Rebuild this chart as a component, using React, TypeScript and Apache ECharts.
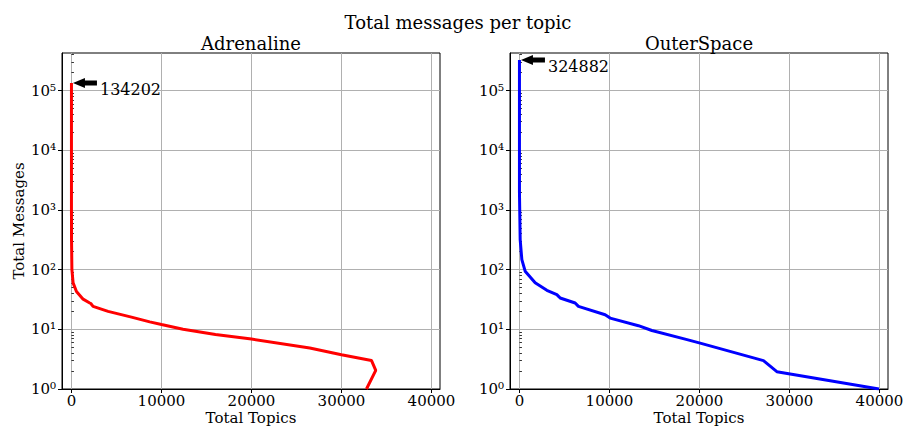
import React, { useEffect, useRef } from 'react';
import * as echarts from 'echarts';

// ---- data ----
const xTicks = [0, 10000, 20000, 30000, 40000];
const yTicks = [1, 10, 100, 1000, 10000, 100000];

const adrX = [0, 0, 10, 50, 185, 556, 1296, 2033, 2150, 2400, 4070, 6667, 8700, 10000, 12400, 16000, 20000, 26480, 30000, 33333, 33811, 32778];
const adrY = [134202, 1000, 300, 100, 60, 43, 32, 27.6, 27, 24.2, 20, 16, 13.3, 12, 10, 8.2, 6.87, 4.86, 3.76, 3.01, 2.05, 1];

const osX = [0, 0, 80, 267, 633, 1744, 3044, 4156, 4400, 4522, 6189, 6556, 9522, 10078, 13222, 14711, 18411, 20078, 27111, 28600, 39950];
const osY = [324882, 2000, 318, 147, 94, 60, 45, 38, 35, 33.4, 27.6, 24.2, 17.5, 15.4, 11.5, 9.55, 6.84, 5.86, 2.99, 1.95, 1];

const adrPeak = 134202;
const osPeak = 324882;

const panelTitles = ['Adrenaline', 'OuterSpace'];
const suptitle = 'Total messages per topic';

const FONT = "'DejaVu Serif', serif";
const SUP = ['\u2070', '\u00b9', '\u00b2', '\u00b3', '\u2074', '\u2075', '\u2076'];
const Y_MAX = 425000;
const X_MIN = -1050;
const X_MAX = 40950;

const minorTicks: number[] = [];
for (let e = 0; e <= 5; e++) {
  for (let m = 2; m <= 9; m++) {
    const v = m * Math.pow(10, e);
    if (v < Y_MAX) minorTicks.push(v);
  }
}

const ARROW = 'path://M0,5 L12,0 L12,2.5 L24,2.5 L24,7.5 L12,7.5 L12,10 Z';

export default function App() {
  const ref = useRef<HTMLDivElement>(null);
  useEffect(() => {
    if (!ref.current) return;
    const chart = echarts.init(ref.current, undefined, { renderer: 'svg' });
    const grids = [
      { left: 62, top: 53, width: 378, height: 336 },
      { left: 510, top: 53, width: 378, height: 336 },
    ];
    const txt = { color: '#000', fontFamily: FONT };
    const xAxes = grids.map((_, i) => ({
      type: 'value',
      gridIndex: i,
      min: X_MIN,
      max: X_MAX,
      axisLine: { show: true, onZero: false, lineStyle: { color: '#000', width: 1 } },
      axisTick: { show: true, inside: false, length: 4, lineStyle: { color: '#000', width: 1 }, customValues: xTicks },
      axisLabel: { show: true, margin: 4, fontSize: 15, ...txt, customValues: xTicks, formatter: (v: number) => String(v) },
      splitLine: { show: true, lineStyle: { color: '#b0b0b0', width: 1 } },
      name: 'Total Topics',
      nameLocation: 'middle',
      nameGap: 21,
      nameMoveOverlap: false,
      nameTextStyle: { fontSize: 15, ...txt },
    }));
    const yMain = grids.map((_, i) => ({
      type: 'log',
      logBase: 10,
      gridIndex: i,
      min: 1,
      max: Y_MAX,
      axisLine: { show: true, onZero: false, lineStyle: { color: '#000', width: 1 } },
      axisTick: { show: true, inside: false, length: 4, lineStyle: { color: '#000', width: 1 }, customValues: yTicks },
      axisLabel: {
        show: true, margin: 6, fontSize: 15, ...txt, customValues: yTicks,
        formatter: (v: number) => '10' + SUP[Math.round(Math.log10(v))],
      },
      splitLine: { show: true, lineStyle: { color: '#b0b0b0', width: 1 } },
      name: i === 0 ? 'Total Messages' : '',
      nameLocation: 'middle',
      nameGap: 36,
      nameMoveOverlap: false,
      nameTextStyle: { fontSize: 15, ...txt },
    }));
    const yMinor = grids.map((_, i) => ({
      type: 'log',
      logBase: 10,
      gridIndex: i,
      min: 1,
      max: Y_MAX,
      axisLine: { show: false },
      axisTick: { show: true, inside: false, length: 2.5, lineStyle: { color: '#000', width: 0.8 }, customValues: minorTicks },
      axisLabel: { show: false },
      splitLine: { show: false },
    }));
    const mk = (peak: number) => ({
      silent: true,
      symbol: ARROW,
      symbolSize: [24, 10],
      symbolOffset: [13.5, 0],
      symbolKeepAspect: false,
      itemStyle: { color: '#000' },
      label: {
        show: true, position: 'right', distance: 3, offset: [0, 7],
        formatter: String(peak), fontSize: 16, ...txt,
      },
      data: [{ coord: [0, peak], value: peak }],
    });
    chart.setOption({
      animation: false,
      backgroundColor: '#fff',
      title: [
        { text: suptitle, left: 458, top: 13, textAlign: 'center', padding: 0, textStyle: { fontSize: 18, fontWeight: 'normal', ...txt } },
        { text: panelTitles[0], left: 251, top: 34, textAlign: 'center', padding: 0, textStyle: { fontSize: 18, fontWeight: 'normal', ...txt } },
        { text: panelTitles[1], left: 699, top: 34, textAlign: 'center', padding: 0, textStyle: { fontSize: 18, fontWeight: 'normal', ...txt } },
      ],
      grid: grids.map((g) => ({
        ...g, show: true, borderColor: '#000', borderWidth: 1, backgroundColor: 'transparent',
        containLabel: false, outerBoundsMode: 'none',
      })),
      xAxis: xAxes,
      yAxis: [...yMain, ...yMinor],
      series: [
        {
          type: 'line', xAxisIndex: 0, yAxisIndex: 0,
          data: adrX.map((x, i) => [x, adrY[i]]),
          showSymbol: false, symbol: 'none',
          lineStyle: { color: '#ff0000', width: 3 }, itemStyle: { color: '#ff0000' },
          markPoint: mk(adrPeak),
        },
        {
          type: 'line', xAxisIndex: 1, yAxisIndex: 1,
          data: osX.map((x, i) => [x, osY[i]]),
          showSymbol: false, symbol: 'none',
          lineStyle: { color: '#0000ff', width: 3 }, itemStyle: { color: '#0000ff' },
          markPoint: mk(osPeak),
        },
      ],
    });
    return () => chart.dispose();
  }, []);
  return <div ref={ref} style={{ position: 'absolute', left: 0, top: 0, width: 904, height: 427 }} />;
}
